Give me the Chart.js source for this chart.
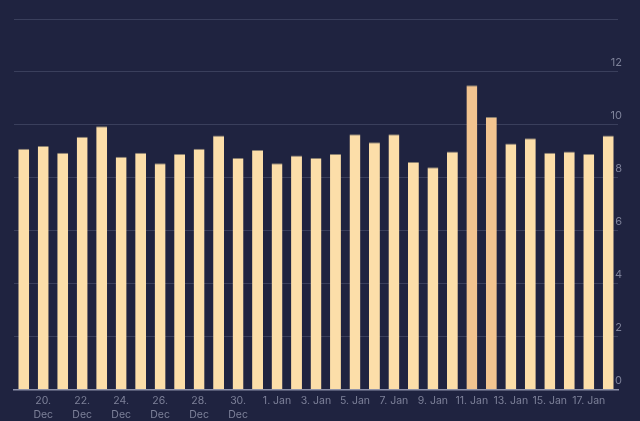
<!DOCTYPE html>
<html><head><meta charset="utf-8">
<script src="https://cdn.jsdelivr.net/npm/chart.js@4"></script>
<style>html,body{margin:0;padding:0;background:#1f2340;}#w{width:640px;height:421px;}</style>
</head><body><div id="w"><canvas id="c"></canvas></div>
<script>
const categories = ["19. Dec","20. Dec","21. Dec","22. Dec","23. Dec","24. Dec","25. Dec","26. Dec","27. Dec","28. Dec","29. Dec","30. Dec","31. Dec","1. Jan","2. Jan","3. Jan","4. Jan","5. Jan","6. Jan","7. Jan","8. Jan","9. Jan","10. Jan","11. Jan","12. Jan","13. Jan","14. Jan","15. Jan","16. Jan","17. Jan","18. Jan"];
const values = [9.1,9.2,8.95,9.55,9.95,8.8,8.95,8.55,8.9,9.1,9.6,8.75,9.05,8.55,8.85,8.75,8.9,9.65,9.35,9.65,8.6,8.4,9.0,11.5,10.3,9.3,9.5,8.95,9.0,8.9,9.6];
const highlighted = ["11. Jan","12. Jan"];
const yTicks = [0,2,4,6,8,10,12,14];
const colors = categories.map(c => highlighted.includes(c) ? '#f2c490' : '#fcdea9');
new Chart(document.getElementById('c'), {
  type: 'bar',
  data: { labels: categories, datasets: [{ data: values, backgroundColor: colors, borderColor: '#8a8070', borderWidth: {top:1,left:0,right:0,bottom:0}, barPercentage: 0.56, categoryPercentage: 1 }] },
  options: {
    responsive: true, maintainAspectRatio: false, animation: false,
    layout: { padding: { left: 14, right: 14, top: 19, bottom: 0 } },
    plugins: { legend: { display: false }, tooltip: { enabled: false } },
    scales: {
      x: {
        grid: { display: false, drawTicks: true, tickLength: 5 },
        border: { color: '#8c90a8', width: 1.5 },
        ticks: {
          autoSkip: false, maxRotation: 0, padding: 0, color: '#7d8199', font: { family: 'Inter', size: 10.5, lineHeight: 1.25 },
          callback: function(v, i) {
            if (i % 2 !== 1) return '';
            const l = categories[i];
            return l.endsWith('Dec') ? [l.split(' ')[0], 'Dec'] : l;
          }
        }
      },
      y: {
        position: 'right', min: 0, max: 14,
        afterBuildTicks: ax => { ax.ticks = yTicks.map(v => ({ value: v })); },
        grid: { color: '#3a3f5c', drawTicks: false },
        border: { display: false },
        ticks: {
          mirror: true, padding: 4, labelOffset: -9, color: '#7d8199', font: { family: 'Inter', size: 11 },
          callback: v => v === 14 ? '' : v
        }
      }
    }
  }
});
</script></body></html>
